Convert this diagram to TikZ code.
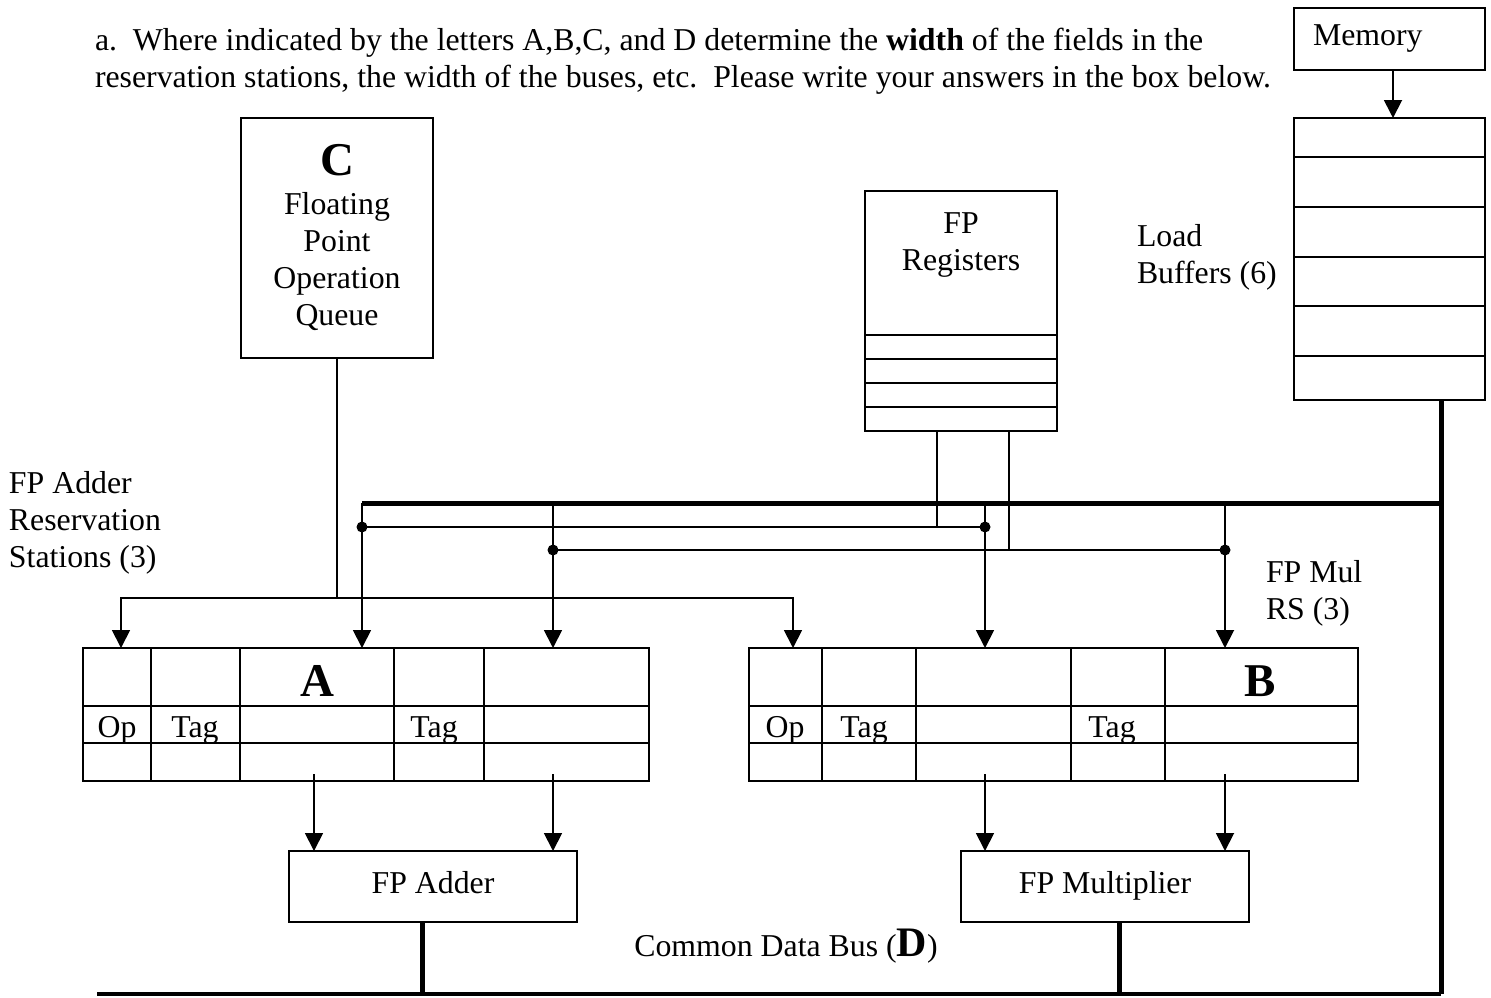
\documentclass[tikz,border=0pt]{standalone}
\usepackage{fontspec}
\setmainfont{Liberation Serif}
\usetikzlibrary{arrows.meta}
\begin{document}
\begin{tikzpicture}[x=1pt,y=-1pt,
  every node/.style={font=\fontsize{31.8}{37}\selectfont, inner sep=0pt, outer sep=0pt},
  lw/.style={line width=1.8pt},
  box/.style={draw, lw},
  unit/.style={box, minimum width=288pt, minimum height=71pt, anchor=north west, text height=21pt, text depth=8pt},
  bus/.style={line width=5pt},
  arr/.style={lw, -{Triangle[length=18pt,width=18pt]}},
  dot/.style={circle, fill, inner sep=0pt, minimum size=11pt},
  txt/.style={align=left},
  big/.style={font=\fontsize{47}{47}\selectfont\bfseries}
]
\useasboundingbox (0,0) rectangle (1491,997);

% header text
\node[txt, anchor=west] (hdr) at (95,61) {a.\ \ Where indicated by the letters A,B,C, and D determine the \textbf{width} of the fields in the\\reservation stations, the width of the buses, etc.\ \ Please write your answers in the box below.};

% memory and load buffers
\node[box, minimum width=191pt, minimum height=62pt, anchor=north west, text width=153pt, inner xsep=19pt, align=left] (mem) at (1294,8) {Memory};
\node[box, minimum width=191pt, minimum height=282pt, anchor=north west] (lb) at (1294,118) {};
\foreach \yy in {157,207,257,306,356} \draw[lw] (lb.west |- 0,\yy) -- (lb.east |- 0,\yy);
\node[txt, anchor=west] (lbl) at (1137,257) {Load\\Buffers (6)};
\draw[arr] ([xshift=3.5pt]mem.south) -- ([xshift=3.5pt]lb.north);

% FP registers
\node[box, minimum width=192pt, minimum height=240pt, anchor=north west] (fpr) at (865,191) {};
\node[align=center] (fprt) at (961,245) {FP\\Registers};
\foreach \yy in {335,359,383,407} \draw[lw] (fpr.west |- 0,\yy) -- (fpr.east |- 0,\yy);

% operation queue
\node[box, minimum width=192pt, minimum height=240pt, anchor=north west] (opq) at (241,118) {};
\node[big] (opqC) at (337,160) {C};
\node[align=center] (opqt) at (337,262) {Floating\\Point\\Operation\\Queue};

% side labels
\node[txt, anchor=west] (rsal) at (9,523) {FP Adder\\Reservation\\Stations (3)};
\node[txt, anchor=west] (rsbl) at (1266,593) {FP Mul\\RS (3)};

% reservation stations A
\node[box, minimum width=566pt, minimum height=133pt, anchor=north west] (rsA) at (83,648) {};
\foreach \yy in {706,743} \draw[lw] (rsA.west |- 0,\yy) -- (rsA.east |- 0,\yy);
\foreach \xx in {151,240,394,484} \draw[lw] (rsA.north -| \xx,0) -- (rsA.south -| \xx,0);
\node[big] (lA) at (317,681) {A};
\node[anchor=base] (opA) at (117,737) {Op};
\node[anchor=base] (tgA1) at (195,737) {Tag};
\node[anchor=base] (tgA2) at (434,737) {Tag};

% reservation stations B
\node[box, minimum width=609pt, minimum height=133pt, anchor=north west] (rsB) at (749,648) {};
\foreach \yy in {706,743} \draw[lw] (rsB.west |- 0,\yy) -- (rsB.east |- 0,\yy);
\foreach \xx in {822,916,1071,1165} \draw[lw] (rsB.north -| \xx,0) -- (rsB.south -| \xx,0);
\node[big] (lB) at (1260,681) {B};
\node[anchor=base] (opB) at (785,737) {Op};
\node[anchor=base] (tgB1) at (864,737) {Tag};
\node[anchor=base] (tgB2) at (1112,737) {Tag};

% functional units
\node[unit] (add) at (289,851) {FP Adder};
\node[unit] (mul) at (961,851) {FP Multiplier};

% common data bus
\node (cdb) at (786,946) {Common Data Bus (\textbf{\fontsize{42}{42}\selectfont D})};
\coordinate (busL) at (97,994);
\coordinate (busR) at (1441,994);
\coordinate (lbo) at (1441,400);
\coordinate (tb1) at (362,503);
\coordinate (tbR) at (1441,503);
\draw[line width=4pt] (busL) -- (busR);
\draw[bus] (lbo) -- (busR);
\draw[bus] (tb1) -- (tbR);
\coordinate (ao) at (422,922);
\coordinate (mo) at (1119,922);
\draw[bus] (ao) -- (ao |- busL);
\draw[bus] (mo) -- (mo |- busL);

% register / bus distribution
\coordinate (j1) at (362,527);
\coordinate (j2) at (985,527);
\coordinate (j3) at (553,550);
\coordinate (j4) at (1225,550);
\draw[lw] (j1) -- (j2);
\draw[lw] (j3) -- (j4);
\coordinate (fo1) at (937,431);
\coordinate (fo2) at (1009,431);
\draw[lw] (fo1) -- (fo1 |- j1);
\draw[lw] (fo2) -- (fo2 |- j3);
\coordinate (tb2) at (553,503);
\coordinate (tb3) at (985,503);
\coordinate (tb4) at (1225,503);
\draw[arr] (tb1) -- (tb1 |- rsA.north);
\draw[arr] (tb2) -- (tb2 |- rsA.north);
\draw[arr] (tb3) -- (tb3 |- rsB.north);
\draw[arr] (tb4) -- (tb4 |- rsB.north);
\node[dot] (d1) at (j1) {};
\node[dot] (d2) at (j2) {};
\node[dot] (d3) at (j3) {};
\node[dot] (d4) at (j4) {};

% operation queue distribution
\coordinate (qj) at (337,598);
\coordinate (qL) at (121,598);
\coordinate (qR) at (793,598);
\draw[lw] (opq.south) -- (qj);
\draw[arr] (qj) -- (qL) -- (qL |- rsA.north);
\draw[arr] (qj) -- (qR) -- (qR |- rsB.north);

% RS to units
\coordinate (ra1) at (314,774);
\coordinate (ra2) at (553,774);
\coordinate (rb1) at (985,774);
\coordinate (rb2) at (1225,774);
\draw[arr] (ra1) -- (ra1 |- add.north);
\draw[arr] (ra2) -- (ra2 |- add.north);
\draw[arr] (rb1) -- (rb1 |- mul.north);
\draw[arr] (rb2) -- (rb2 |- mul.north);
\end{tikzpicture}
\end{document}
